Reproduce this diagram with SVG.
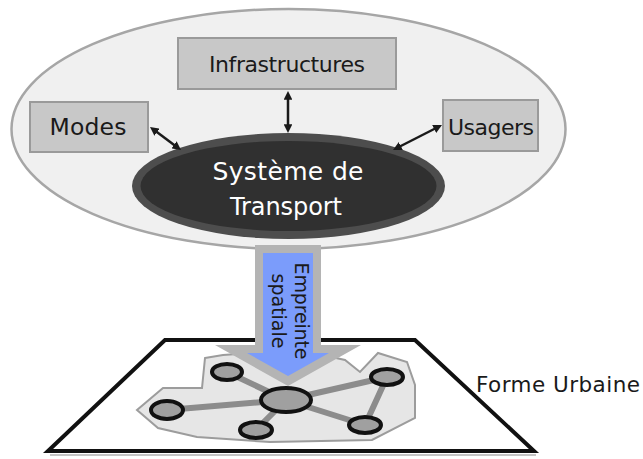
<svg xmlns="http://www.w3.org/2000/svg" width="643" height="459" viewBox="0 0 643 459">
<defs>
<style>
.lbl{font-family:"DejaVu Sans","Liberation Sans",sans-serif;fill:#1a1a1a;text-anchor:middle}
.wht{fill:#ffffff}
.box{fill:#c8c8c8;stroke:#9a9a9a;stroke-width:2}
.conn{stroke:#1a1a1a;stroke-width:2.5;fill:none;marker-start:url(#ah);marker-end:url(#ah)}
.edge{stroke:#8c8c8c;stroke-width:6;stroke-linecap:round}
.node{fill:#a0a0a0;stroke:#111;stroke-width:4}
</style>
<marker id="ah" viewBox="0 0 10 10" refX="5" refY="5" markerWidth="3.5" markerHeight="3.5" orient="auto-start-reverse" markerUnits="strokeWidth">
<path d="M0,0 L10,5 L0,10 z" fill="#1a1a1a"/>
</marker>
</defs>
<rect width="643" height="459" fill="#ffffff"/>

<g id="systeme-englobant">
<ellipse cx="288.5" cy="129" rx="277" ry="120" fill="#f0f0f0" stroke="#a6a6a6" stroke-width="2.5"/>
</g>

<g id="infrastructures">
<rect class="box" x="178" y="38" width="218" height="51"/>
<text class="lbl" x="287" y="72" font-size="22" textLength="156">Infrastructures</text>
</g>

<g id="modes">
<rect class="box" x="30" y="102" width="118" height="50"/>
<text class="lbl" x="88" y="135" font-size="23.5" textLength="77">Modes</text>
</g>

<g id="usagers">
<rect class="box" x="443" y="100" width="95" height="51"/>
<text class="lbl" x="491" y="135" font-size="22" textLength="86">Usagers</text>
</g>

<g id="systeme-transport">
<ellipse cx="288.5" cy="186" rx="156.5" ry="53" fill="#4d4d4d"/>
<ellipse cx="288.5" cy="186" rx="148" ry="45" fill="#303030"/>
<text class="lbl wht" x="288" y="180" font-size="25" textLength="151">Système de</text>
<text class="lbl wht" x="286" y="215" font-size="24" textLength="112">Transport</text>
</g>

<g id="connecteurs">
<line class="conn" x1="288" y1="95.4" x2="288" y2="128.6"/>
<line class="conn" x1="153.5" y1="129.6" x2="177.5" y2="147.4"/>
<line class="conn" x1="438.1" y1="127" x2="396.9" y2="148"/>
</g>

<g id="forme-urbaine">
<polygon points="165,340 415,340 534,451 48,451" fill="#ffffff" stroke="#111" stroke-width="4" stroke-linejoin="miter"/>
<line x1="50" y1="455" x2="536" y2="455" stroke="#c4c4c4" stroke-width="2"/>
<polygon points="205,358 223,355 300,350 345,360 360,372 378,353 407,362 415,385 415,418 372,440 270,442 197,437 158,428 137,410 163,388 202,388" fill="#e6e6e6" stroke="#9c9c9c" stroke-width="2"/>
<g id="reseau">
<line class="edge" x1="286" y1="400" x2="227" y2="372"/>
<line class="edge" x1="286" y1="400" x2="167" y2="410"/>
<line class="edge" x1="286" y1="400" x2="256" y2="430"/>
<line class="edge" x1="286" y1="400" x2="387" y2="377"/>
<line class="edge" x1="286" y1="400" x2="365" y2="425"/>
<line class="edge" x1="387" y1="377" x2="365" y2="425"/>
</g>
<text class="lbl" x="476" y="392" font-size="21.5" style="text-anchor:start" textLength="164">Forme Urbaine</text>
</g>

<g id="empreinte-spatiale">
<polygon points="255,245 321,245 321,345 361,345 288,386 215,345 255,345" fill="#b4b4b4"/>
<polygon points="263,253 313,253 313,353 329,353 288,376 247,353 263,353" fill="#7b9cfb"/>
<text class="lbl" transform="translate(295,311) rotate(90)" font-size="19" textLength="97">Empreinte</text>
<text class="lbl" transform="translate(272,311) rotate(90)" font-size="19" textLength="75">spatiale</text>
</g>

<g id="noeuds">
<ellipse class="node" cx="227" cy="372" rx="15" ry="8"/>
<ellipse class="node" cx="167" cy="410" rx="16" ry="9"/>
<ellipse class="node" cx="256" cy="430" rx="16" ry="8"/>
<ellipse class="node" cx="387" cy="377" rx="16" ry="8"/>
<ellipse class="node" cx="365" cy="425" rx="16" ry="8"/>
<ellipse class="node" cx="286" cy="400" rx="25" ry="12"/>
</g>
</svg>
